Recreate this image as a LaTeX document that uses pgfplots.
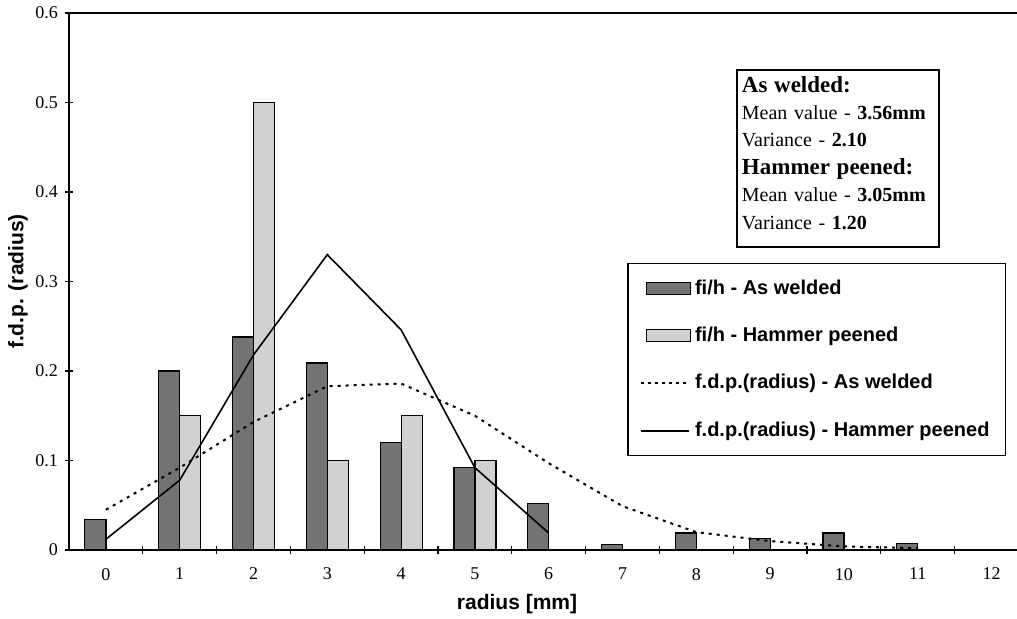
\documentclass[border=0pt]{standalone}
\usepackage{pgfplots}
\pgfplotsset{compat=1.18}
\usepackage{fontspec}
\setmainfont{Liberation Serif}
\setsansfont{Liberation Sans}

% f_i/h histograms, one value per radius class 0..12
\pgfplotstableread{
x  y
0  0.034
1  0.200
2  0.238
3  0.209
4  0.120
5  0.092
6  0.052
7  0.006
8  0.019
9  0.013
10 0.019
11 0.007
}\weldbars
\pgfplotstableread{
x  y
1  0.150
2  0.500
3  0.100
4  0.150
5  0.100
}\peenbars

\begin{document}
\begin{tikzpicture}
\useasboundingbox (-34.5pt,-34pt) rectangle (474pt,275pt);
\begin{axis}[
    at={(0,0)}, anchor=south west,
    scale only axis, width=479.7pt, height=268.5pt,
    xmin=-0.5, xmax=12.5, ymin=0, ymax=0.6,
    axis line style={line width=0.9pt},
    xtick={0,1,...,12},
    minor xtick={0.5,1.5,...,11.5},
    major x tick style={draw=none},
    minor tick length=4pt,
    xtick pos=bottom, ytick pos=left,
    ytick={0,0.1,0.2,0.3,0.4,0.5,0.6},
    yticklabels={0,0.1,0.2,0.3,0.4,0.5,0.6},
    tick align=center, major tick length=4pt,
    tick style={black, line width=0.6pt},
    /pgf/number format/assume math mode=true,
    ticklabel style={font=\fontsize{9}{10}\selectfont},
    xticklabel style={yshift=-3.5pt},
    xlabel={radius [mm]},
    ylabel={f.d.p. (radius)},
    xlabel style={at={(axis description cs:0.467,0)}, anchor=center, yshift=-27pt,
        font=\sffamily\bfseries\fontsize{10.5}{12}\selectfont},
    ylabel style={at={(axis description cs:-0.0532,0.5)}, anchor=center,
        font=\sffamily\bfseries\fontsize{10.5}{12}\selectfont},
    legend style={at={(axis cs:7.06,0.321)}, anchor=north west,
        draw=black, line width=0.8pt, fill=white,
        font=\sffamily\bfseries\fontsize{10}{12}\selectfont,
        inner xsep=6pt, inner ysep=6pt, row sep=11pt,
        legend cell align=left},
]
\addplot[ybar, bar width=10.5pt, bar shift=-5.25pt, draw=black, line width=0.6pt, fill=black!55,
    legend image code/.code={\draw[draw=black, line width=0.5pt, fill=black!55] (0pt,-3pt) rectangle (22pt,3pt);}]
    table {\weldbars};
\addlegendentry{fi/h - As welded}
\addplot[ybar, bar width=10.5pt, bar shift=5.25pt, draw=black, line width=0.6pt, fill=black!18,
    legend image code/.code={\draw[draw=black, line width=0.5pt, fill=black!18] (0pt,-3pt) rectangle (22pt,3pt);}]
    table {\peenbars};
\addlegendentry{fi/h - Hammer peened}
\addplot[black, line width=1pt, dash pattern=on 1.5pt off 2.5pt, mark=none,
    legend image code/.code={\draw[black, line width=0.8pt, dash pattern=on 1.5pt off 2pt] (-3pt,0pt) -- (21pt,0pt);}]
    coordinates {(0,0.045) (1,0.092) (2,0.143) (3,0.183) (4,0.186) (5,0.150) (6,0.097)
                 (7,0.049) (8,0.020) (9,0.010) (10,0.004) (11,0.002)};
\addlegendentry{f.d.p.(radius) - As welded}
\addplot[black, line width=0.8pt, mark=none,
    legend image code/.code={\draw[black, line width=0.8pt] (-3pt,0pt) -- (21pt,0pt);}]
    coordinates {(0,0.012) (1,0.078) (2,0.218) (3,0.330) (4,0.246) (5,0.092) (6,0.019)};
\addlegendentry{f.d.p.(radius) - Hammer peened}
\node[draw=black, line width=0.8pt, fill=white, anchor=north west, align=left,
      inner xsep=2.5pt, inner ysep=3pt, text width=96pt,
      font=\fontsize{10}{13.7}\selectfont] at (axis cs:8.54,0.537)
   {{\fontsize{11.5}{13.7}\selectfont\bfseries As welded:}\\
    Mean value - \textbf{3.56mm}\\
    Variance - \textbf{2.10}\\
    {\fontsize{11.5}{13.7}\selectfont\bfseries Hammer peened:}\\
    Mean value - \textbf{3.05mm}\\
    Variance - \textbf{1.20}\rule[-6pt]{0pt}{6pt}};
\end{axis}
\end{tikzpicture}
\end{document}
